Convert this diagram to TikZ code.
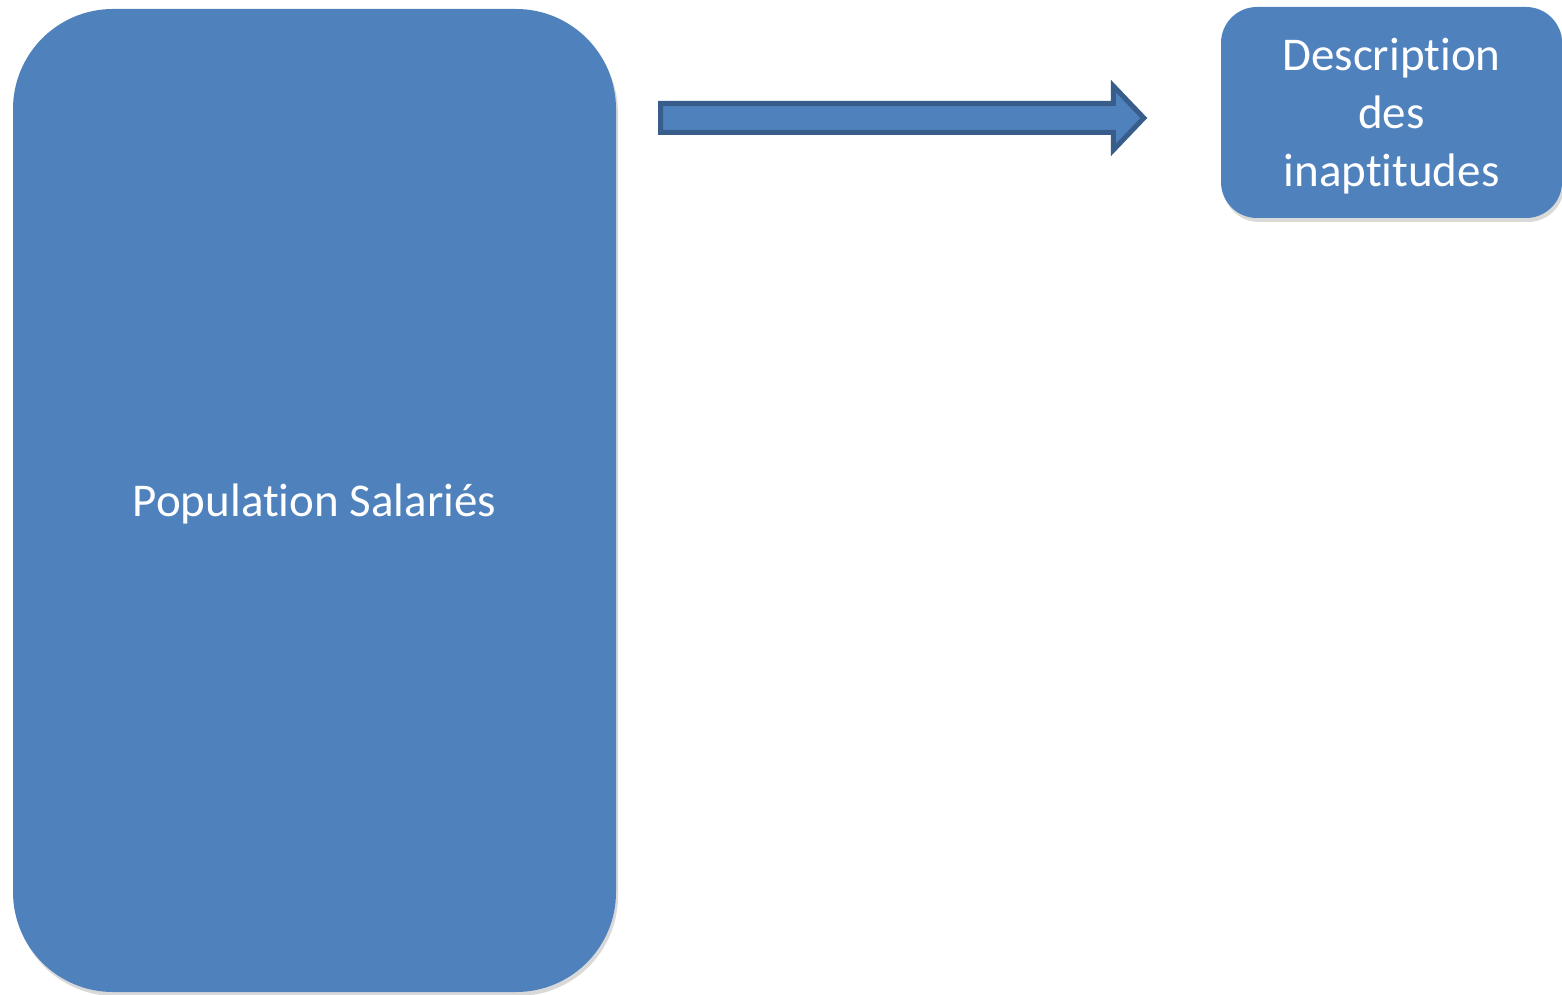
\documentclass[tikz,border=0pt]{standalone}
\usepackage{fontspec}
\setmainfont[Ligatures=NoCommon]{Carlito}
\usetikzlibrary{positioning,shadows}
\definecolor{boxblue}{HTML}{4F81BD}
\definecolor{arrowline}{HTML}{385D8A}
\tikzset{
	bluebox/.style={draw=none, fill=boxblue, text=white, align=center,
		font=\fontsize{47}{58}\selectfont, inner sep=0pt, text depth=0pt,
		drop shadow={shadow xshift=2pt, shadow yshift=-4pt, opacity=0.3}},
	fatarrow/.style={draw=arrowline, fill=boxblue, line width=5pt, line join=miter}
}
\begin{document}
\begin{tikzpicture}[x=1pt, y=1pt]
			\useasboundingbox (0,0) rectangle (1562,994);
			\node[bluebox, minimum width=603pt, minimum height=983pt, rounded corners=100pt] (pop) at (314.5,493.5) {Population Salari\'es};
			\node[bluebox, minimum width=341pt, minimum height=211pt, rounded corners=36pt] (desc) at (1391.5,881.5) {Description\\des\\inaptitudes};
			% fat arrow between the two boxes
			\coordinate (a0) at ([xshift=44.5pt]pop.east |- 0,876);
			\coordinate (a1) at ([xshift=-77pt]desc.west |- 0,876);
			\draw[fatarrow] ([yshift=14.5pt]a0) -- ([xshift=-30.5pt,yshift=14.5pt]a1) -- ([xshift=-30.5pt,yshift=32pt]a1)
				-- (a1) -- ([xshift=-30.5pt,yshift=-32pt]a1) -- ([xshift=-30.5pt,yshift=-14.5pt]a1) -- ([yshift=-14.5pt]a0) -- cycle;
		\end{tikzpicture}
\end{document}
